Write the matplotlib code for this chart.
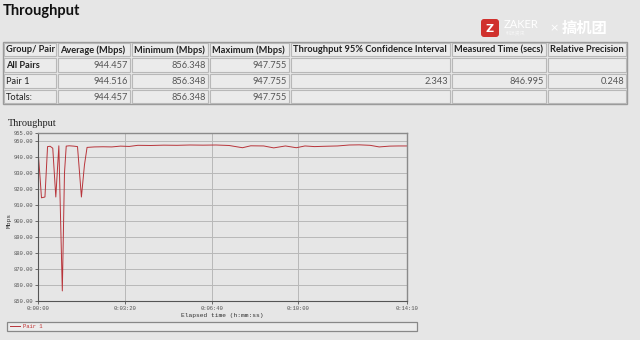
import matplotlib.pyplot as plt
from matplotlib.patches import Rectangle, FancyBboxPatch

# table contents
headers = ["Group/ Pair", "Average (Mbps)", "Minimum (Mbps)", "Maximum (Mbps)",
           "Throughput 95% Confidence Interval", "Measured Time (secs)", "Relative Precision"]
rows = [
    ["All Pairs", "944.457", "856.348", "947.755", "", "", ""],
    ["Pair 1", "944.516", "856.348", "947.755", "2.343", "846.995", "0.248"],
    ["Totals:", "944.457", "856.348", "947.755", "", "", ""],
]

# throughput series (seconds, Mbps)
t = [0, 4, 8, 16, 22, 28, 34, 41, 48, 53, 56, 61, 65, 72, 82, 91, 100, 107, 113,
     130, 150, 170, 190, 210, 230, 260, 290, 320, 350, 380, 410, 440, 471, 490,
     520, 543, 570, 595, 615, 637, 660, 690, 717, 740, 765, 786, 810, 830, 850]
mbps = [944.0, 930.0, 914.5, 915.0, 946.5, 946.7, 945.5, 915.0, 947.0, 890.0, 856.3,
        930.0, 946.8, 947.0, 946.8, 946.5, 915.0, 935.0, 946.0,
        946.3, 946.4, 946.3, 946.8, 946.6, 947.3, 947.2, 947.4, 947.3, 947.5, 947.4,
        947.5, 947.2, 945.8, 947.0, 946.9, 945.7, 946.9, 945.8, 946.9, 946.5, 946.7,
        946.9, 947.5, 947.6, 947.3, 946.3, 946.8, 946.9, 946.9]

x_ticks = [0, 200, 400, 600, 850]
x_labels = ["0:00:00", "0:03:20", "0:06:40", "0:10:00", "0:14:10"]
y_ticks = [850, 860, 870, 880, 890, 900, 910, 920, 930, 940, 950, 955]

bg = "#e6e6e6"
fig = plt.figure(figsize=(6.4, 3.4), dpi=100, facecolor=bg)

# overlay in pixel coords for the report parts
ov = fig.add_axes([0, 0, 1, 1])
ov.set_xlim(0, 640)
ov.set_ylim(340, 0)
ov.axis("off")

ov.text(3, 11, "Throughput", fontsize=10.5, fontweight="bold", family="Lato",
        va="center", ha="left", color="#111111")

# watermark
ov.add_patch(FancyBboxPatch((481, 19), 18, 18, boxstyle="round,pad=0,rounding_size=3",
                            facecolor="#d0312d", edgecolor="none"))
ov.text(490, 28.5, "Z", fontsize=8, fontweight="bold", color="white", ha="center", va="center")
ov.text(504, 24.5, "ZAKER", fontsize=8, color="white", ha="left", va="center", family="Lato")
ov.text(506, 33, "科技资讯", fontsize=3.5, color="#f6f6f6", ha="left", va="center",
        family=["Noto Sans CJK SC", "DejaVu Sans"])
ov.text(549, 28, "×", fontsize=8, color="white", ha="left", va="center")
ov.text(562, 28, "搞机团", fontsize=11, fontweight="bold", color="white", style="italic",
        ha="left", va="center", family=["Noto Sans CJK SC", "DejaVu Sans"])

# table
col_x = [3, 57, 131, 209, 290, 451, 547, 627]
row_y = [42, 57, 73, 89, 104]
ov.add_patch(Rectangle((col_x[0], row_y[0]), col_x[-1] - col_x[0], row_y[-1] - row_y[0],
                       facecolor="none", edgecolor="#9a9a9a", lw=1.0))
for r in range(4):
    for c in range(7):
        x0, x1 = col_x[c], col_x[c + 1]
        y0, y1 = row_y[r], row_y[r + 1]
        ov.add_patch(Rectangle((x0 + 1.2, y0 + 1.2), x1 - x0 - 2.4, y1 - y0 - 2.4,
                               facecolor="#ebebeb", edgecolor="#b8b8b8", lw=0.8))
        if r == 0:
            txt, bold, ha, xx, col = headers[c], True, "left", x0 + 3, "#222222"
        else:
            txt = rows[r - 1][c]
            bold = (r == 1 and c == 0)
            if c == 0:
                ha, xx = "left", x0 + 3
            else:
                ha, xx = "right", x1 - 3
            col = "#222222" if c == 0 else "#555555"
        ov.text(xx, (y0 + y1) / 2 + 0.5, txt, fontsize=6.7, family="Lato",
                fontweight="bold" if bold else "normal", ha=ha, va="center", color=col)

# chart title, legend
ov.text(8, 124, "Throughput", fontsize=7.5, family="Liberation Serif", ha="left",
        va="center", color="#222222")
ov.add_patch(Rectangle((7, 322), 410, 8.5, facecolor="#ececec", edgecolor="#888888", lw=0.9))

# chart
ax = fig.add_axes([38 / 640, 1 - 301 / 340, (407 - 38) / 640, (301 - 133) / 340])
ax.set_facecolor(bg)
ax.plot(t, mbps, color="#b8343a", lw=0.7, label="Pair 1")
ax.set_xlim(0, 850)
ax.set_ylim(850, 955)
ax.set_xticks(x_ticks)
ax.set_xticklabels(x_labels)
ax.set_yticks(y_ticks)
ax.set_yticklabels([f"{v:.2f}" for v in y_ticks])
ax.grid(True, color="#b8b8b8", lw=0.7)
ax.set_axisbelow(True)
ax.tick_params(labelsize=4, length=2, width=0.6, colors="#555555", pad=1.5)
for lab in ax.get_xticklabels() + ax.get_yticklabels():
    lab.set_family("Liberation Mono")
for s in ["top", "right"]:
    ax.spines[s].set_color("#8a8a8a")
    ax.spines[s].set_linewidth(1.0)
for s in ["left", "bottom"]:
    ax.spines[s].set_color("#555555")
    ax.spines[s].set_linewidth(0.8)

ov.text(222, 316, "Elapsed time (h:mm:ss)", fontsize=4.5, family="Liberation Mono",
        ha="center", va="center", color="#333333")
ov.text(9, 221, "Mbps", fontsize=4.5, family="Liberation Mono", rotation=90,
        ha="center", va="center", color="#333333")

# legend entry
ov.plot([10, 20], [326.2, 326.2], color="#b8343a", lw=0.7)
ov.text(23, 326.5, "Pair 1", fontsize=4, family="Liberation Mono", color="#c03030",
        ha="left", va="center")

fig.savefig("out.png", dpi=100, facecolor=bg)
